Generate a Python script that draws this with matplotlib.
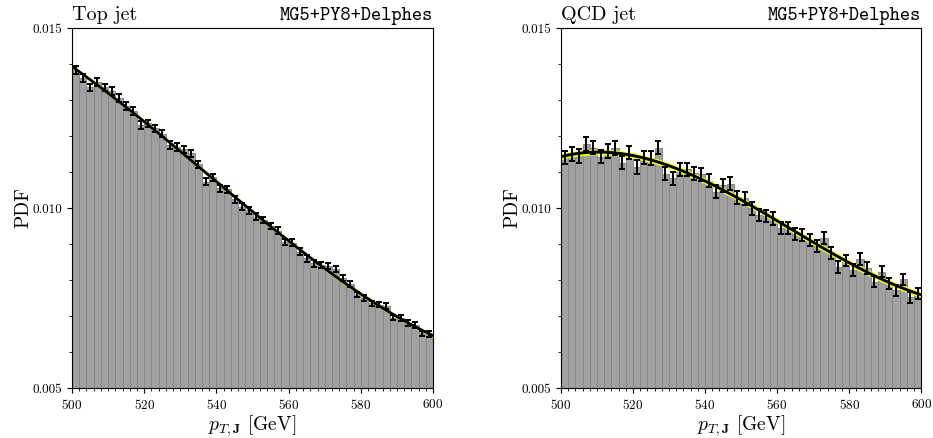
import numpy as np
import matplotlib.pyplot as plt
from matplotlib.ticker import MultipleLocator, FormatStrFormatter

plt.rcParams['font.family'] = 'cmr10'
plt.rcParams['mathtext.fontset'] = 'cm'
plt.rcParams['axes.formatter.use_mathtext'] = True

# binning of the pT histogram
pt_lo, pt_hi, bin_w = 500, 600, 2

# normalised bin contents
top_pdf = [0.01383, 0.01360, 0.01335, 0.01351, 0.01335, 0.01326, 0.01305, 0.01283, 0.01270, 0.01230,
           0.01235, 0.01221, 0.01207, 0.01175, 0.01170, 0.01163, 0.01152, 0.01122, 0.01073, 0.01085,
           0.01055, 0.01052, 0.01024, 0.01004, 0.00994, 0.00976, 0.00967, 0.00950, 0.00937, 0.00906,
           0.00904, 0.00879, 0.00860, 0.00846, 0.00842, 0.00839, 0.00830, 0.00805, 0.00790, 0.00760,
           0.00749, 0.00735, 0.00732, 0.00728, 0.00696, 0.00694, 0.00681, 0.00675, 0.00652, 0.00650]

qcd_pdf = [0.01141, 0.01150, 0.01144, 0.01177, 0.01168, 0.01143, 0.01158, 0.01167, 0.01126, 0.01154,
           0.01114, 0.01140, 0.01139, 0.01168, 0.01095, 0.01083, 0.01108, 0.01108, 0.01096, 0.01094,
           0.01076, 0.01045, 0.01064, 0.01067, 0.01030, 0.01027, 0.00999, 0.00981, 0.00978, 0.00971,
           0.00944, 0.00944, 0.00928, 0.00925, 0.00911, 0.00894, 0.00916, 0.00876, 0.00837, 0.00854,
           0.00828, 0.00858, 0.00833, 0.00795, 0.00823, 0.00791, 0.00772, 0.00802, 0.00752, 0.00763]

panels = ['Top jet', 'QCD jet']
tag = 'MG5+PY8+Delphes'
# relative size of the stat. errors (err = k*sqrt(pdf)) and half-width of the fit band
err_k = [0.00094, 0.00175]
band_w = [0.00005, 0.00008]

fig = plt.figure(figsize=(9.33, 4.38), dpi=100)
axes = [fig.add_axes([0.0772, 0.114, 0.387, 0.822]),
        fig.add_axes([0.6013, 0.114, 0.386, 0.822])]

edges = np.arange(pt_lo, pt_hi + bin_w, bin_w)
centers = 0.5 * (edges[:-1] + edges[1:])

for ax, vals, name, k, bw in zip(axes, [top_pdf, qcd_pdf], panels, err_k, band_w):
    vals = np.array(vals)
    err = k * np.sqrt(vals)
    ax.bar(centers, vals, width=bin_w, color='#a0a0a0', edgecolor='#888888', linewidth=0.7, zorder=1)

    # smooth fit of the histogram with its band
    t = (centers - 550) / 50
    coef = np.polyfit(t, vals, 3, w=1 / err)
    xx = np.linspace(pt_lo, pt_hi, 300)
    yy = np.polyval(coef, (xx - 550) / 50)
    ax.fill_between(xx, yy - bw, yy + bw, color='#ffff00', lw=0, zorder=2)
    ax.fill_between(xx, yy - bw / 2, yy + bw / 2, color='#8fcf00', lw=0, zorder=2)
    ax.plot(xx, yy, color='k', lw=2, zorder=3)

    ax.errorbar(centers, vals, yerr=err, fmt='none', ecolor='k', elinewidth=1.4,
                capsize=2.0, capthick=1.4, zorder=4)

    ax.set_xlim(pt_lo, pt_hi)
    ax.set_ylim(0.005, 0.015)
    ax.xaxis.set_major_locator(MultipleLocator(20))
    ax.xaxis.set_minor_locator(MultipleLocator(2))
    ax.yaxis.set_major_locator(MultipleLocator(0.005))
    ax.yaxis.set_minor_locator(MultipleLocator(0.001))
    ax.yaxis.set_major_formatter(FormatStrFormatter('%.3f'))
    ax.tick_params(which='major', labelsize=9.5, length=3.5, width=0.8)
    ax.tick_params(which='minor', length=2, width=0.6)
    ax.set_xlabel(r'$p_{T,\mathbf{J}}$ [GeV]', fontsize=14, labelpad=1)
    ax.set_ylabel('PDF', fontsize=14, labelpad=0)
    ax.set_title(name, loc='left', fontsize=14.5, pad=6)
    ax.set_title(tag, loc='right', fontsize=14, fontfamily='cmtt10', pad=6)

fig.savefig('out.png', dpi=100)
